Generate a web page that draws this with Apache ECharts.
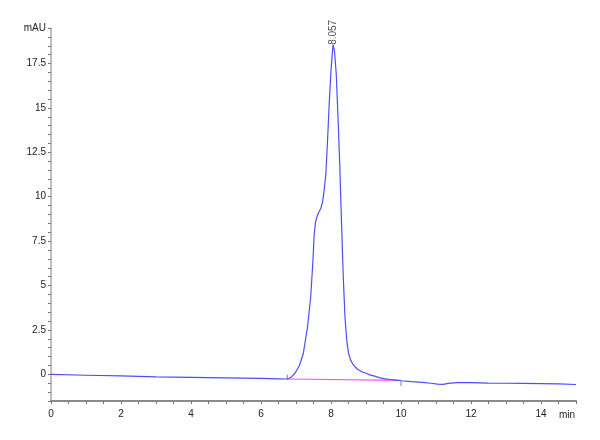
<!DOCTYPE html>
<html>
<head>
<meta charset="utf-8">
<script src="https://cdn.jsdelivr.net/npm/echarts@6/dist/echarts.min.js"></script>
<style>
html,body{margin:0;padding:0;background:#fff;}
#chart{width:600px;height:440px;}
</style>
</head>
<body>
<div id="chart"></div>
<script>
// Chromatogram trace (time in min, absorbance in mAU)
var times = [0, 1, 2, 3, 4, 5, 6, 6.5, 6.75, 6.85, 6.97, 7.1, 7.21, 7.33, 7.42, 7.48, 7.52, 7.56, 7.61, 7.66, 7.71, 7.76, 7.80, 7.85, 7.90, 7.95, 8.00, 8.03, 8.06, 8.10, 8.15, 8.20, 8.25, 8.30, 8.35, 8.40, 8.45, 8.50, 8.56, 8.64, 8.75, 8.88, 9.0, 9.11, 9.25, 9.4, 9.55, 9.7, 9.85, 10.0, 10.3, 10.6, 10.85, 11.05, 11.2, 11.35, 11.6, 12.0, 12.5, 13.0, 13.5, 14.0, 14.5, 15.0];
var signal = [0.00, -0.05, -0.09, -0.14, -0.17, -0.20, -0.23, -0.25, -0.26, -0.18, 0.06, 0.5, 1.19, 2.69, 4.37, 6.26, 7.9, 8.6, 8.95, 9.15, 9.35, 9.7, 10.3, 11.2, 13.1, 15.3, 17.1, 17.9, 18.55, 18.2, 16.9, 14.5, 11.8, 8.6, 5.5, 3.2, 1.9, 1.2, 0.8, 0.53, 0.3, 0.15, 0.06, -0.03, -0.1, -0.2, -0.25, -0.29, -0.32, -0.36, -0.41, -0.45, -0.5, -0.55, -0.56, -0.51, -0.47, -0.47, -0.49, -0.5, -0.51, -0.52, -0.54, -0.57];

// Integration baseline (peak start/end)
var baseTimes = [6.75, 10.0];
var baseValues = [-0.26, -0.34];

// Peak annotation
var peakTime = 8.057;
var peakValue = 18.55;
var peakLabel = '8.057';

// Axis labels
var yUnit = 'mAU';
var xUnit = 'min';
var yLabelStep = 2.5;
var xLabelStep = 2;

function zip(a, b) { return a.map(function (v, i) { return [v, b[i]]; }); }
function isMult(v, s) { return Math.abs(v / s - Math.round(v / s)) < 1e-6; }

var fontFamily = 'Liberation Sans, Arial, sans-serif';
var chart = echarts.init(document.getElementById('chart'), null, { renderer: 'canvas' });
chart.setOption({
  animation: false,
  backgroundColor: '#ffffff',
  grid: { left: 51, right: 24, top: 28, bottom: 39 },
  xAxis: {
    type: 'value', min: 0, max: 15, interval: 0.5,
    name: xUnit, nameLocation: 'end', nameGap: -1,
    nameTextStyle: { align: 'right', verticalAlign: 'top', padding: [9, 0, 0, 0], fontSize: 10, color: '#222', fontFamily: fontFamily },
    axisLine: { show: true, onZero: false, lineStyle: { color: '#8a8a8a', width: 2 } },
    axisTick: { show: true, length: 3, lineStyle: { color: '#777', width: 1 } },
    axisLabel: {
      margin: 8, fontSize: 10, color: '#222', fontFamily: fontFamily,
      formatter: function (v) { return (isMult(v, xLabelStep) && v < 15) ? String(Math.round(v)) : ''; }
    },
    splitLine: { show: false }
  },
  yAxis: {
    type: 'value', min: -1.5, max: 19.5, interval: 0.5,
    axisLine: { show: true, onZero: false, lineStyle: { color: '#aaaaaa', width: 1.5 } },
    axisTick: { show: true, length: 3, lineStyle: { color: '#777', width: 1 } },
    axisLabel: {
      margin: 5, fontSize: 10, color: '#222', fontFamily: fontFamily,
      formatter: function (v) {
        if (Math.abs(v - 19.5) < 1e-6) return yUnit;
        if (isMult(v, yLabelStep)) { return String(Math.round(v * 10) / 10); }
        return '';
      }
    },
    splitLine: { show: false }
  },
  series: [
    {
      type: 'line', data: zip(baseTimes, baseValues), showSymbol: false, silent: true,
      lineStyle: { color: '#ff4dff', width: 1.2 }, z: 2
    },
    {
      type: 'line', data: zip(times, signal), showSymbol: false, silent: true,
      lineStyle: { color: '#4d4dff', width: 1.2 }, z: 3
    },
    {
      type: 'scatter', silent: true, z: 4,
      data: [
        { value: [baseTimes[0], baseValues[0]], symbolOffset: [0, -2] },
        { value: [baseTimes[1], baseValues[1]], symbolOffset: [0, 3] }
      ],
      symbol: 'rect', symbolSize: [1, 5], itemStyle: { color: '#666' }
    },
    {
      type: 'scatter', silent: true, z: 5,
      data: [[peakTime, peakValue]], symbolSize: 0,
      label: {
        show: true, formatter: peakLabel, position: 'top', distance: 0, rotate: 90,
        align: 'left', verticalAlign: 'middle',
        fontSize: 10, color: '#222', fontFamily: fontFamily
      }
    }
  ]
});
</script>
</body>
</html>
